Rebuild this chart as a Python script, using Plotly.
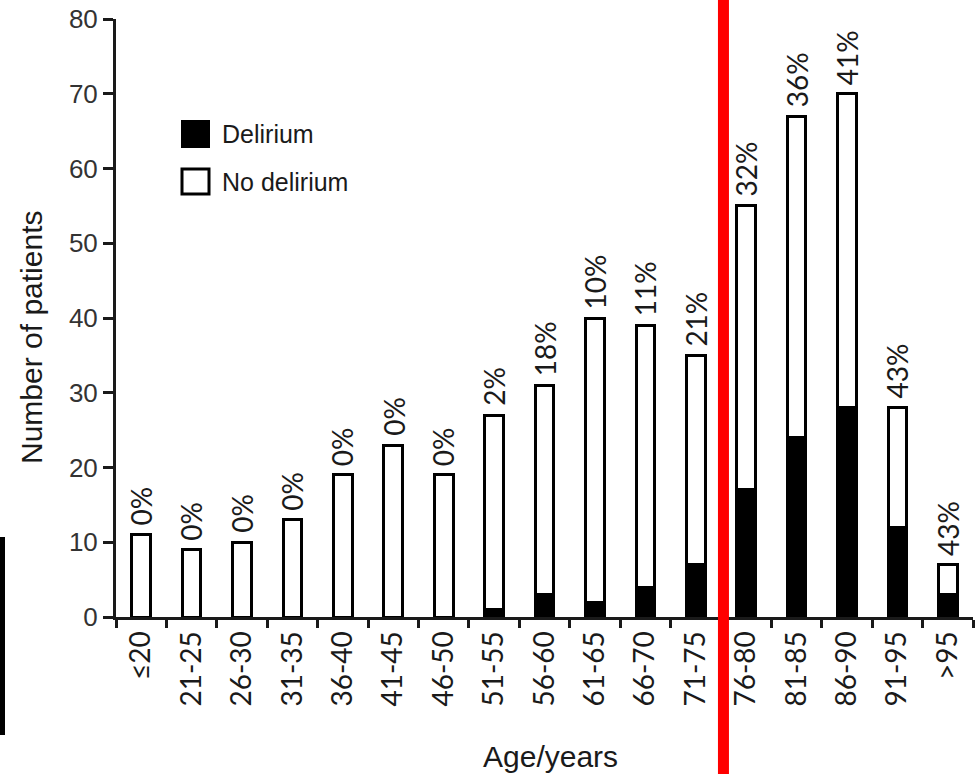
import plotly.graph_objects as go

categories = ["≤20", "21-25", "26-30", "31-35", "36-40", "41-45", "46-50", "51-55",
              "56-60", "61-65", "66-70", "71-75", "76-80", "81-85", "86-90", "91-95", ">95"]
totals = [11, 9, 10, 13, 19, 23, 19, 27, 31, 40, 39, 35, 55, 67, 70, 28, 7]
delirium = [0, 0, 0, 0, 0, 0, 0, 1, 3, 2, 4, 7, 17, 24, 28, 12, 3]
no_delirium = [t - d for t, d in zip(totals, delirium)]
pct_labels = ["0%", "0%", "0%", "0%", "0%", "0%", "0%", "2%", "18%", "10%", "11%",
              "21%", "32%", "36%", "41%", "43%", "43%"]

W, H = 975, 774
L, R, T, B = 116, 2, 19, 157
PW, PH = W - L - R, H - T - B

def px(xp):
    return (xp - L) / PW

def py(yp):
    return (H - B - yp) / PH

LAB_FONT = "Lato"
SANS = "Liberation Sans, Arial, sans-serif"

fig = go.Figure()
fig.add_trace(go.Bar(x=categories, y=delirium, name="Delirium", width=0.37,
                     marker=dict(color="black", line=dict(color="black", width=3)),
                     showlegend=False))
fig.add_trace(go.Bar(x=categories, y=no_delirium, name="No delirium", width=0.37,
                     marker=dict(color="white", line=dict(color="black", width=3)),
                     showlegend=False))

annotations = []
for c, t, lab in zip(categories, totals, pct_labels):
    annotations.append(dict(x=c, y=t, xref="x", yref="y", text=lab, showarrow=False,
                            textangle=-90, xanchor="center", yanchor="bottom", yshift=7,
                            font=dict(family=LAB_FONT, size=28, color="#1a1a1a")))

# axis titles
annotations.append(dict(x=px(31), y=py(338), xref="paper", yref="paper",
                        text="Number of patients", showarrow=False, textangle=-90,
                        xanchor="center", yanchor="middle",
                        font=dict(family=SANS, size=30, color="#1a1a1a")))
annotations.append(dict(x=px(550), y=py(756), xref="paper", yref="paper",
                        text="Age/years", showarrow=False,
                        xanchor="center", yanchor="middle",
                        font=dict(family=SANS, size=30, color="#1a1a1a")))
# legend texts
annotations.append(dict(x=px(220), y=py(134), xref="paper", yref="paper",
                        text="Delirium", showarrow=False, xanchor="left", yanchor="middle",
                        font=dict(family=SANS, size=25, color="#1a1a1a")))
annotations.append(dict(x=px(220), y=py(182), xref="paper", yref="paper",
                        text="No delirium", showarrow=False, xanchor="left", yanchor="middle",
                        font=dict(family=SANS, size=25, color="#1a1a1a")))

shapes = [
    # legend keys
    dict(type="rect", xref="paper", yref="paper", x0=px(182), x1=px(209),
         y0=py(147), y1=py(121), fillcolor="black", line=dict(color="black", width=2)),
    dict(type="rect", xref="paper", yref="paper", x0=px(182), x1=px(209),
         y0=py(194), y1=py(169), fillcolor="white", line=dict(color="black", width=3)),
    # red vertical marker line
    dict(type="line", xref="x", yref="paper", x0=11.55, x1=11.55,
         y0=py(H + 5), y1=py(-5), line=dict(color="#ff0000", width=11)),
    # black bar at left edge
    dict(type="rect", xref="paper", yref="paper", x0=px(-3), x1=px(5),
         y0=py(735), y1=py(537), fillcolor="black", line=dict(width=0)),
]

fig.update_layout(
    width=W, height=H, barmode="stack",
    margin=dict(l=L, r=R, t=T, b=B, pad=0),
    paper_bgcolor="white", plot_bgcolor="white",
    annotations=annotations, shapes=shapes,
    xaxis=dict(range=[-0.5, 16.5], tickson="boundaries", ticks="outside", ticklen=8,
               tickwidth=2.5, tickcolor="#1a1a1a", showline=True, linewidth=3,
               linecolor="#1a1a1a", tickangle=-90, showgrid=False, zeroline=False,
               tickfont=dict(family=LAB_FONT, size=28, color="#1a1a1a")),
    yaxis=dict(range=[0, 80], dtick=10, ticks="outside", ticklen=10, tickwidth=2.5,
               tickcolor="#1a1a1a", showline=True, linewidth=3, linecolor="#1a1a1a",
               showgrid=False, zeroline=False,
               tickfont=dict(family=SANS, size=26, color="#333333")),
)

fig.write_html("out.html",
               config={"displayModeBar": False},
               post_script="document.body.style.margin='0px';"
                           "document.body.style.overflow='hidden';")
